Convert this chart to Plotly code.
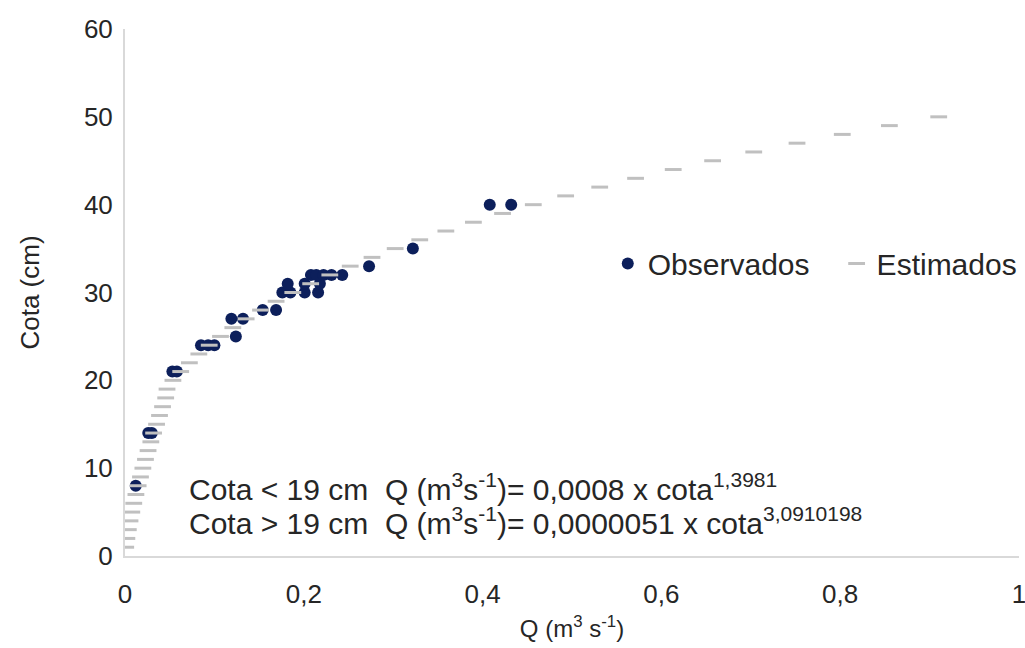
import plotly.graph_objects as go

# Observed points (Q in m3/s, cota in cm)
obs_q = [0.012, 0.026, 0.030, 0.053, 0.058, 0.085, 0.093, 0.100,
         0.119, 0.124, 0.132, 0.154, 0.169,
         0.176, 0.185, 0.201, 0.216,
         0.182, 0.201, 0.218,
         0.208, 0.214, 0.222, 0.231, 0.243,
         0.273, 0.322, 0.408, 0.432]
obs_cota = [8, 14, 14, 21, 21, 24, 24, 24,
            27, 25, 27, 28, 28,
            30, 30, 30, 30,
            31, 31, 31,
            32, 32, 32, 32, 32,
            33, 35, 40, 40]

# Estimated curve (one dash per cm of cota)
est_cota = list(range(1, 51))
est_q = [0.0008, 0.0021, 0.0037, 0.0056, 0.0076, 0.0098, 0.0122, 0.0147, 0.0173, 0.0200,
         0.0229, 0.0258, 0.0289, 0.0320, 0.0353, 0.0386, 0.0420, 0.0455, 0.0470, 0.0536,
         0.0623, 0.0720, 0.0826, 0.0942, 0.1068, 0.1206, 0.1355, 0.1516, 0.1690, 0.1877,
         0.2077, 0.2291, 0.2519, 0.2763, 0.3022, 0.3297, 0.3589, 0.3897, 0.4223, 0.4567,
         0.4929, 0.5310, 0.5711, 0.6132, 0.6573, 0.7033, 0.7517, 0.8023, 0.8550, 0.9102]

x_ticks = [0, 0.2, 0.4, 0.6, 0.8, 1]
x_ticktext = ["0", "0,2", "0,4", "0,6", "0,8", "1"]
y_ticks = [0, 10, 20, 30, 40, 50, 60]

FONT = "Liberation Sans, Arial, sans-serif"
TXT = "#262626"

fig = go.Figure()
fig.add_trace(go.Scatter(
    x=obs_q, y=obs_cota, mode="markers", name="Observados", legend="legend",
    showlegend=True,
    marker=dict(color="#0C1F5B", size=12, line=dict(width=0)),
))
fig.add_trace(go.Scatter(
    x=est_q, y=est_cota, mode="markers", name="Estimados", legend="legend2",
    showlegend=True,
    marker=dict(symbol="line-ew", size=12, color="#C0C0C0",
                line=dict(color="#C0C0C0", width=3)),
))

fig.add_annotation(x=0.069, y=7.9, xref="x", yref="y", xanchor="left", yanchor="middle",
                   text="Cota < 19 cm  Q (m<sup>3</sup>s<sup>-1</sup>)= 0,0008 x cota<sup>1,3981</sup>",
                   showarrow=False, font=dict(family=FONT, size=30, color=TXT))
fig.add_annotation(x=0.069, y=4.0, xref="x", yref="y", xanchor="left", yanchor="middle",
                   text="Cota > 19 cm  Q (m<sup>3</sup>s<sup>-1</sup>)= 0,0000051 x cota<sup>3,0910198</sup>",
                   showarrow=False, font=dict(family=FONT, size=30, color=TXT))

fig.update_layout(
    width=1025, height=648,
    showlegend=True,
    margin=dict(l=125, r=6, t=29, b=92, autoexpand=False),
    paper_bgcolor="white", plot_bgcolor="white",
    separators=", ",
    font=dict(family=FONT, size=26, color=TXT),
    legend=dict(orientation="h", x=0.54, y=0.555, xanchor="left", yanchor="middle",
                font=dict(size=30, color=TXT), bgcolor="rgba(0,0,0,0)"),
    legend2=dict(orientation="h", x=0.796, y=0.555, xanchor="left", yanchor="middle",
                 font=dict(size=30, color=TXT), bgcolor="rgba(0,0,0,0)"),
    xaxis=dict(range=[0, 1], tickvals=x_ticks, ticktext=x_ticktext, showgrid=False,
               zeroline=False, showline=True, linecolor="#D9D9D9", linewidth=2,
               ticks="", ticklabelstandoff=14, ticklabeloverflow="allow",
               title=dict(text="Q (m<sup>3</sup> s<sup>-1</sup>)", font=dict(size=24), standoff=12)),
    yaxis=dict(range=[0, 60], tickvals=y_ticks, showgrid=False,
               zeroline=False, showline=True, linecolor="#D9D9D9", linewidth=2,
               ticks="", ticklabelstandoff=5,
               title=dict(text="Cota (cm)", font=dict(size=26), standoff=37)),
)

fig.write_html("out.html")
